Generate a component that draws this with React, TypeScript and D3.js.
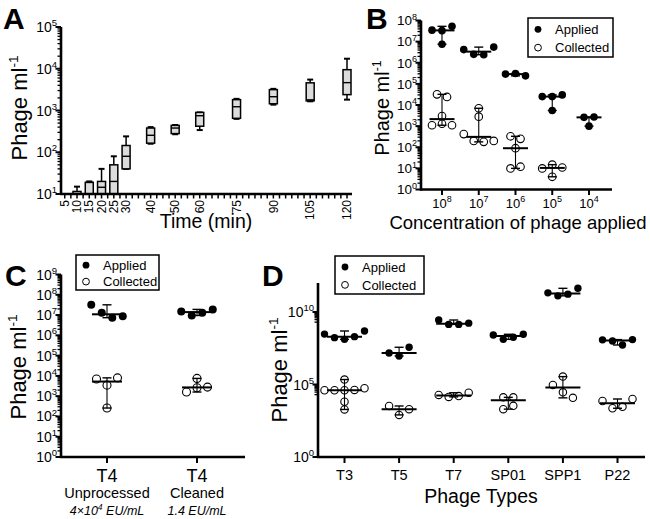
import React from 'react';
import * as d3 from 'd3';

const FONT = 'Arial, "Liberation Sans", Helvetica, sans-serif';

// ---------- Panel A data ----------
const timeTicks = [5, 10, 15, 20, 25, 30, 40, 50, 60, 75, 90, 105, 120];
const boxTimes = [10, 15, 20, 25, 30, 40, 50, 60, 75, 90, 105, 120];
const boxMin = [10, 10, 10, 10, 40, 160, 270, 340, 630, 1380, 1660, 1820];
const boxQ1 = [10, 10, 10, 10, 40, 165, 280, 420, 650, 1450, 1700, 2400];
const boxMed = [10, 19, 14.5, 20, 80, 255, 380, 750, 1230, 2140, 1800, 4650];
const boxQ3 = [11.5, 19, 20, 50, 145, 380, 440, 900, 1820, 3160, 4600, 9500];
const boxMax = [15, 20, 40, 80, 240, 400, 450, 900, 1900, 3300, 5500, 17400];

// ---------- Panel B data ----------
const concExponents = ['8', '7', '6', '5', '4'];
const appliedB = [
  [3.5e7, 3.3e7, 5.3e7, 7.5e6],
  [4.2e6, 2.5e6, 2.4e6, 5.5e6],
  [2.9e5, 3.1e5, 2.4e5],
  [2.5e4, 2.5e4, 3.0e4, 5.5e3],
  [2.6e3, 1.0e3, 2.7e3],
];
const collectedB = [
  [3.2e4, 2.4e4, 3.0e3, 1.1e3, 1.3e3, 1.1e3],
  [7.0e3, 2.8e3, 420, 200, 180, 200],
  [330, 250, 90, 10, 12],
  [10, 15, 11, 4],
  [],
];

// ---------- Panel C data ----------
const cKeys = ['unprocessed', 'cleaned'];
const cPhage = ['T4', 'T4'];
const cProcess = ['Unprocessed', 'Cleaned'];
const cEndoBase = ['4×10', '1.4'];
const cEndoExp = ['4', ''];
const appliedC = [
  [3.2e7, 1.3e7, 7.4e6, 8.8e6],
  [1.5e7, 0.95e7, 1.3e7, 1.9e7],
];
const collectedC = [
  [7.0e3, 3.5e3, 8.0e3, 260],
  [7.5e3, 1.6e3, 2.6e3, 2.8e3],
];

// ---------- Panel D data ----------
const phageTypes = ['T3', 'T5', 'T7', 'SP01', 'SPP1', 'P22'];
const appliedD = [
  [3e8, 1.7e8, 1.3e8, 2e8, 4.9e8],
  [1.5e7, 9.3e6, 3.7e7],
  [2.8e9, 1.4e9, 1.4e9, 1.7e9],
  [2.6e8, 1.3e8, 1.8e8, 2.9e8],
  [2.1e11, 1.3e11, 1.7e11, 4.3e11],
  [1.2e8, 1.0e8, 5.3e7, 1.25e8],
];
const collectedD = [
  [4e4, 4e4, 4e4, 4.2e4, 5.5e4, 2.2e5, 6.5e3, 1.9e3],
  [3.3e3, 800, 2e3],
  [1.9e4, 1.4e4, 1.6e4, 2.7e4],
  [1.3e4, 1.3e4, 2e3, 3.4e3],
  [3.5e5, 9.3e4, 2.9e4, 1.2e4],
  [7.3e3, 2.3e3, 2.9e3, 1e4],
];

const legendLabels = ['Applied', 'Collected'];

// ---------- helpers ----------
type Scale = (v: number) => number;

function spread(vals: number[], y: Scale, cx: number, r: number, gap: number) {
  const ys = vals.map(y);
  const order = ys.map((_, i) => i).sort((a, b) => ys[a] - ys[b]);
  const clusters: number[][] = [];
  let cur: number[] = [];
  order.forEach((idx, k) => {
    if (k > 0 && ys[idx] - ys[order[k - 1]] >= 2 * r) {
      clusters.push(cur);
      cur = [];
    }
    cur.push(idx);
  });
  if (cur.length) clusters.push(cur);
  const xs = new Array(vals.length).fill(cx);
  clusters.forEach((c) => {
    const s = [...c].sort((a, b) => a - b);
    s.forEach((idx, j) => {
      xs[idx] = cx + (j - (s.length - 1) / 2) * gap;
    });
  });
  return vals.map((_, i) => ({ x: xs[i], y: ys[i] }));
}

function LogYAxis(props: {
  x: number;
  scale: d3.ScaleLogarithmic<number, number>;
  lo: number;
  hi: number;
  majors: number[];
  minorDecades: number[];
  fs: number;
  sup: number;
}) {
  const { x, scale, lo, hi, majors, minorDecades, fs, sup } = props;
  const minors: number[] = [];
  minorDecades.forEach((k) => {
    for (let m = 2; m <= 9; m++) minors.push(m * Math.pow(10, k));
  });
  const [y0, y1] = [scale(Math.pow(10, lo)), scale(Math.pow(10, hi))];
  return (
    <g>
      <line x1={x} x2={x} y1={y0 + 1} y2={y1} stroke="#000" strokeWidth={2.6} />
      {minors.map((v, i) => (
        <line key={'m' + i} x1={x - 3.5} x2={x} y1={scale(v)} y2={scale(v)} stroke="#000" strokeWidth={1.3} />
      ))}
      {majors.map((k) => (
        <g key={'M' + k}>
          <line x1={x - 5.5} x2={x} y1={scale(Math.pow(10, k))} y2={scale(Math.pow(10, k))} stroke="#000" strokeWidth={2} />
          <text x={x - 4} y={scale(Math.pow(10, k)) + fs * 0.36} textAnchor="end" fontSize={fs} fontFamily={FONT}>
            10
            <tspan dy={-fs * 0.42} fontSize={sup}>
              {k}
            </tspan>
          </text>
        </g>
      ))}
    </g>
  );
}

function YTitle({ cx, cy, fs }: { cx: number; cy: number; fs: number }) {
  return (
    <text transform={`translate(${cx},${cy}) rotate(-90)`} textAnchor="middle" dy="0.35em" fontSize={fs} fontFamily={FONT}>
      Phage ml
      <tspan dy={-fs * 0.4} fontSize={fs * 0.62}>
        -1
      </tspan>
    </text>
  );
}

function Letter({ x, y, t }: { x: number; y: number; t: string }) {
  return (
    <text x={x} y={y} fontSize={30} fontWeight="bold" fontFamily={FONT}>
      {t}
    </text>
  );
}

function Legend({ x, y, w, h, fs }: { x: number; y: number; w: number; h: number; fs: number }) {
  return (
    <g>
      <rect x={x} y={y} width={w} height={h} fill="#fff" stroke="#000" strokeWidth={1.5} />
      {legendLabels.map((l, i) => {
        const cy = y + h * (0.29 + 0.47 * i);
        return (
          <g key={l}>
            {i === 0 ? (
              <circle cx={x + 10} cy={cy} r={3.4} fill="#000" />
            ) : (
              <circle cx={x + 10} cy={cy} r={3.4} fill="#fff" stroke="#000" strokeWidth={1} />
            )}
            <text x={x + 27} y={cy + fs * 0.36} fontSize={fs} fontFamily={FONT}>
              {l}
            </text>
          </g>
        );
      })}
    </g>
  );
}

function Scatter(props: {
  vals: number[];
  cx: number;
  y: Scale;
  filled: boolean;
  r: number;
  gap: number;
  medW: number;
}) {
  const { vals, cx, y, filled, r, gap, medW } = props;
  if (!vals.length) return null;
  const pts = spread(vals, y, cx, r, gap);
  const med = d3.median(vals) as number;
  const [mn, mx] = d3.extent(vals) as [number, number];
  return (
    <g>
      {pts.map((p, i) => (
        <circle
          key={i}
          cx={p.x}
          cy={p.y}
          r={r}
          fill={filled ? '#000' : '#fff'}
          stroke="#000"
          strokeWidth={filled ? 0 : 1.1}
        />
      ))}
      <line x1={cx} x2={cx} y1={y(mn)} y2={y(mx)} stroke="#000" strokeWidth={1.1} />
      <line x1={cx - 4.5} x2={cx + 4.5} y1={y(mn)} y2={y(mn)} stroke="#000" strokeWidth={1.4} />
      <line x1={cx - 4.5} x2={cx + 4.5} y1={y(mx)} y2={y(mx)} stroke="#000" strokeWidth={1.4} />
      <line x1={cx - medW / 2} x2={cx + medW / 2} y1={y(med)} y2={y(med)} stroke="#000" strokeWidth={2} />
    </g>
  );
}

export default function App() {
  // ----- Panel A scales -----
  const ax = d3.scaleLinear().domain([10, 120]).range([77, 347]);
  const ay = d3.scaleLog().domain([10, 1e5]).range([194, 27]);
  const aMinorTicks = d3.range(5, 121, 2.5);

  // ----- Panel B scales -----
  const bx = d3.scalePoint<string>().domain(concExponents).range([442, 589]);
  const by = d3.scaleLog().domain([1, 1e8]).range([189.5, 20.5]);

  // ----- Panel C scales -----
  const cx = d3.scalePoint<string>().domain(cKeys).range([107, 197]);
  const cy = d3.scaleLog().domain([1, 1e9]).range([457, 274.5]);

  // ----- Panel D scales -----
  const dx = d3.scalePoint<string>().domain(phageTypes).range([344.5, 617.5]);
  const dy = d3.scaleLog().domain([1, 1e12]).range([457, 283]);

  return (
    <svg
      width={650}
      height={519}
      viewBox="0 0 650 519"
      style={{ position: 'absolute', left: 0, top: 0, background: '#fff' }}
      fontFamily={FONT}
    >
      <rect x={0} y={0} width={650} height={519} fill="#fff" />

      {/* ================= Panel A ================= */}
      <Letter x={3} y={29} t="A" />
      <YTitle cx={19} cy={108} fs={22} />
      {boxTimes.map((t, i) => {
        const x = ax(t);
        const w = 8;
        return (
          <g key={t}>
            <line x1={x} x2={x} y1={ay(boxQ3[i])} y2={ay(boxMax[i])} stroke="#000" strokeWidth={1.5} />
            <line x1={x} x2={x} y1={ay(boxQ1[i])} y2={ay(boxMin[i])} stroke="#000" strokeWidth={1.5} />
            <line x1={x - 3} x2={x + 3} y1={ay(boxMax[i])} y2={ay(boxMax[i])} stroke="#000" strokeWidth={2} />
            <line x1={x - 3} x2={x + 3} y1={ay(boxMin[i])} y2={ay(boxMin[i])} stroke="#000" strokeWidth={2} />
            <rect
              x={x - w / 2}
              y={ay(boxQ3[i])}
              width={w}
              height={Math.max(0.5, ay(boxQ1[i]) - ay(boxQ3[i]))}
              fill="#dcdcdc"
              stroke="#000"
              strokeWidth={1.5}
            />
            <line x1={x - w / 2} x2={x + w / 2} y1={ay(boxMed[i])} y2={ay(boxMed[i])} stroke="#000" strokeWidth={1.4} />
          </g>
        );
      })}
      <LogYAxis x={61} scale={ay} lo={1} hi={5} majors={[1, 2, 3, 4, 5]} minorDecades={[1, 2, 3, 4]} fs={14} sup={9.5} />
      <line x1={60} x2={352} y1={194} y2={194} stroke="#000" strokeWidth={2.6} />
      {aMinorTicks.map((t) => (
        <line key={t} x1={ax(t)} x2={ax(t)} y1={194} y2={198.5} stroke="#000" strokeWidth={1.5} />
      ))}
      {timeTicks.map((t) => (
        <text
          key={t}
          transform={`translate(${ax(t)},${200}) rotate(-90)`}
          textAnchor="end"
          dy="0.35em"
          fontSize={12}
          fontFamily={FONT}
        >
          {t}
        </text>
      ))}
      <text x={206} y={228} textAnchor="middle" fontSize={19.5} fontFamily={FONT}>
        Time (min)
      </text>

      {/* ================= Panel B ================= */}
      <Letter x={366} y={29} t="B" />
      <YTitle cx={382} cy={108} fs={20} />
      {concExponents.map((c, i) => (
        <g key={c}>
          <Scatter vals={collectedB[i]} cx={bx(c) as number} y={by} filled={false} r={3.8} gap={10} medW={25} />
          <Scatter vals={appliedB[i]} cx={bx(c) as number} y={by} filled={true} r={3.8} gap={10} medW={25} />
        </g>
      ))}
      <LogYAxis x={421} scale={by} lo={0} hi={8} majors={d3.range(0, 9)} minorDecades={d3.range(0, 8)} fs={13.5} sup={9} />
      <line x1={420} x2={612} y1={189.5} y2={189.5} stroke="#000" strokeWidth={2.6} />
      {concExponents.map((c) => (
        <g key={c}>
          <line x1={bx(c)} x2={bx(c)} y1={189.5} y2={195} stroke="#000" strokeWidth={2} />
          <text x={bx(c)} y={207.5} textAnchor="middle" fontSize={13} fontFamily={FONT}>
            10
            <tspan dy={-6} fontSize={9}>
              {c}
            </tspan>
          </text>
        </g>
      ))}
      <text x={518} y={229} textAnchor="middle" fontSize={18.5} fontFamily={FONT}>
        Concentration of phage applied
      </text>
      <Legend x={528} y={18} w={85} h={39} fs={13} />

      {/* ================= Panel C ================= */}
      <Letter x={5} y={286} t="C" />
      <YTitle cx={18} cy={367} fs={22} />
      {cKeys.map((k, i) => (
        <g key={k}>
          <Scatter vals={collectedC[i]} cx={cx(k) as number} y={cy} filled={false} r={4} gap={10.5} medW={30} />
          <Scatter vals={appliedC[i]} cx={cx(k) as number} y={cy} filled={true} r={4} gap={10.5} medW={30} />
        </g>
      ))}
      <LogYAxis x={61} scale={cy} lo={0} hi={9} majors={d3.range(0, 10)} minorDecades={d3.range(0, 9)} fs={14} sup={9.5} />
      <line x1={60} x2={245} y1={457} y2={457} stroke="#000" strokeWidth={2.6} />
      {cKeys.map((k, i) => (
        <g key={k}>
          <line x1={cx(k)} x2={cx(k)} y1={457} y2={463} stroke="#000" strokeWidth={2} />
          <text x={cx(k)} y={482} textAnchor="middle" fontSize={18} fontFamily={FONT}>
            {cPhage[i]}
          </text>
          <text x={cx(k)} y={498} textAnchor="middle" fontSize={14.5} fontFamily={FONT}>
            {cProcess[i]}
          </text>
          <text x={cx(k)} y={515} textAnchor="middle" fontSize={12.5} fontStyle="italic" fontFamily={FONT}>
            {cEndoBase[i]}
            {cEndoExp[i] ? (
              <tspan dy={-5} fontSize={8.5}>
                {cEndoExp[i]}
              </tspan>
            ) : null}
            <tspan dy={cEndoExp[i] ? 5 : 0}>{' EU/mL'}</tspan>
          </text>
        </g>
      ))}
      <Legend x={76} y={255} w={83} h={35} fs={13} />

      {/* ================= Panel D ================= */}
      <Letter x={262} y={286} t="D" />
      <YTitle cx={279} cy={370} fs={22} />
      {phageTypes.map((p, i) => (
        <g key={p}>
          <Scatter vals={collectedD[i]} cx={dx(p) as number} y={dy} filled={false} r={3.7} gap={10} medW={35} />
          <Scatter vals={appliedD[i]} cx={dx(p) as number} y={dy} filled={true} r={3.7} gap={10} medW={35} />
        </g>
      ))}
      <LogYAxis x={318} scale={dy} lo={0} hi={12} majors={[0, 5, 10]} minorDecades={[4, 9]} fs={14} sup={9.5} />
      <line x1={317} x2={645} y1={457} y2={457} stroke="#000" strokeWidth={2.6} />
      {phageTypes.map((p) => (
        <g key={p}>
          <line x1={dx(p)} x2={dx(p)} y1={457} y2={463} stroke="#000" strokeWidth={2} />
          <text x={dx(p)} y={480} textAnchor="middle" fontSize={14.5} fontFamily={FONT}>
            {p}
          </text>
        </g>
      ))}
      <text x={481} y={503} textAnchor="middle" fontSize={19.5} fontFamily={FONT}>
        Phage Types
      </text>
      <Legend x={335} y={256} w={89} h={38} fs={13} />
    </svg>
  );
}
